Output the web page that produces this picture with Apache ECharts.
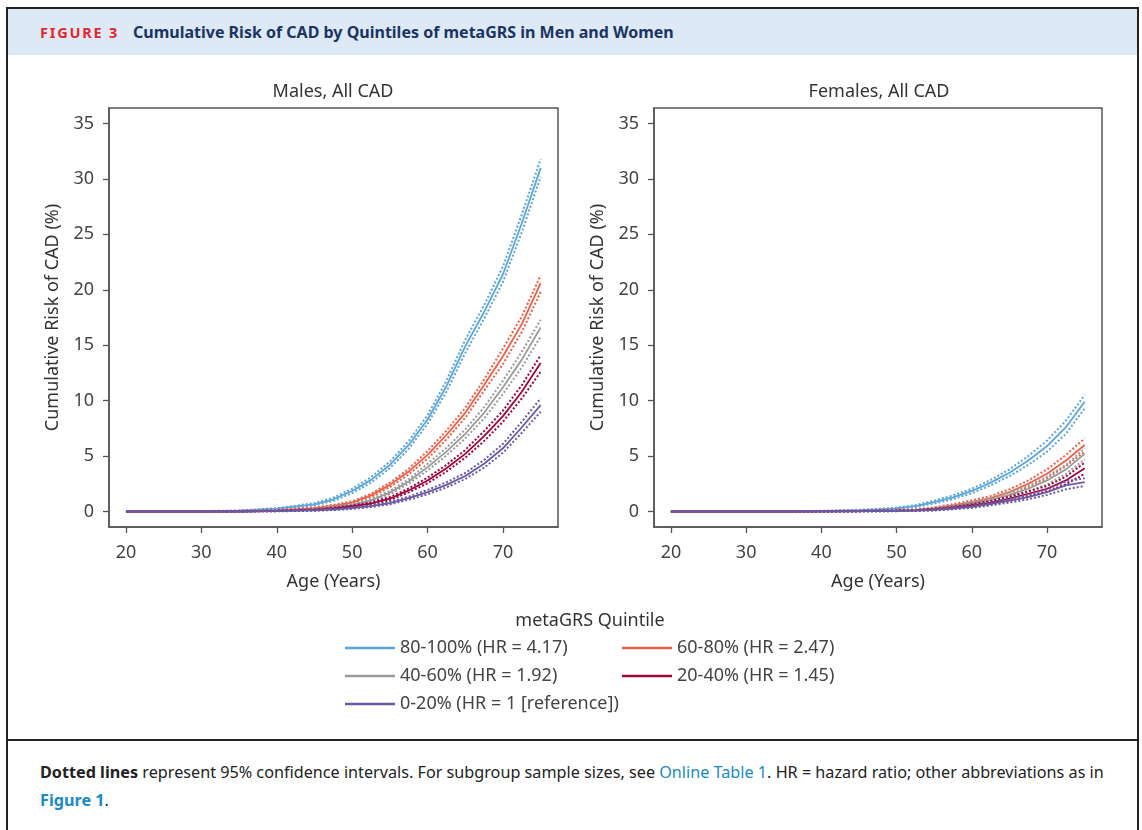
<!DOCTYPE html>
<html>
<head>
<meta charset="utf-8">
<script src="https://cdn.jsdelivr.net/npm/echarts@6/dist/echarts.min.js"></script>
<style>
  body { margin: 0; background: #fff; font-family: "Noto Sans", sans-serif; }
  #page { position: relative; width: 1142px; height: 830px; overflow: hidden; }
  #frame { position: absolute; left: 6px; top: 7px; width: 1133px; height: 840px; border: 2px solid #222; box-sizing: border-box; }
  #head { position: absolute; left: 8px; top: 9px; width: 1129px; height: 46px; background: #dde9f5; }
  #head .fig { position: absolute; left: 32px; top: 13px; color: #e3262f; font-weight: 700; font-size: 14.5px; letter-spacing: 1.8px; }
  #head .ttl { position: absolute; left: 125px; top: 12px; color: #1b3463; font-weight: 700; font-size: 16px; }
  #divider { position: absolute; left: 6px; top: 739px; width: 1133px; height: 2px; background: #222; }
  #foot { position: absolute; left: 40px; top: 758px; width: 1090px; font-size: 16.2px; line-height: 28px; color: #222; white-space: nowrap; }
  #foot b { font-weight: 700; }
  #foot .lnk { color: #1a8bc0; }
  #chart { position: absolute; left: 0; top: 0; width: 1142px; height: 830px; }
</style>
</head>
<body>
<div id="page">
  <div id="frame"></div>
  <div id="head"><span class="fig">FIGURE 3</span><span class="ttl">Cumulative Risk of CAD by Quintiles of metaGRS in Men and Women</span></div>
  <div id="divider"></div>
  <div id="foot"><b>Dotted lines</b> represent 95% confidence intervals. For subgroup sample sizes, see <span class="lnk">Online Table 1</span>. HR = hazard ratio; other abbreviations as in<br><b class="lnk">Figure 1</b>.</div>
  <div id="chart"></div>
</div>
<script>
// ages at which the curves were read
var ages = [20, 30, 35, 40, 45, 47.5, 50, 52.5, 55, 57.5, 60, 62.5, 65, 67.5, 70, 72.5, 75];

var quintiles = ['80-100% (HR = 4.17)', '60-80% (HR = 2.47)', '40-60% (HR = 1.92)', '20-40% (HR = 1.45)', '0-20% (HR = 1 [reference])'];
var colors = ['#5aa5dc', '#f25c45', '#9a9a9a', '#a3043a', '#6a5aa6'];

var xTicks = [20, 30, 40, 50, 60, 70];
var yTicks = [0, 5, 10, 15, 20, 25, 30, 35];

// males
var m80 = [0, 0.02, 0.08, 0.25, 0.65, 1.1, 1.85, 2.85, 4.2, 6.0, 8.3, 11.3, 14.9, 18.0, 21.4, 26.0, 31.0];
var m80lo = [0, 0.01, 0.06, 0.2, 0.55, 0.95, 1.65, 2.6, 3.9, 5.65, 7.9, 10.8, 14.3, 17.4, 20.7, 25.2, 30.2];
var m80hi = [0, 0.03, 0.1, 0.3, 0.75, 1.25, 2.05, 3.1, 4.5, 6.35, 8.7, 11.8, 15.5, 18.6, 22.1, 26.8, 31.8];
var m60 = [0, 0, 0.03, 0.1, 0.3, 0.5, 0.8, 1.45, 2.4, 3.6, 5.1, 6.9, 8.9, 11.4, 14.0, 16.9, 20.6];
var m60lo = [0, 0, 0.02, 0.08, 0.25, 0.42, 0.7, 1.3, 2.2, 3.35, 4.75, 6.5, 8.45, 10.9, 13.3, 16.2, 19.8];
var m60hi = [0, 0.01, 0.05, 0.13, 0.36, 0.6, 0.92, 1.6, 2.6, 3.85, 5.45, 7.3, 9.35, 11.9, 14.7, 17.6, 21.3];
var m40 = [0, 0, 0.02, 0.08, 0.22, 0.38, 0.6, 1.0, 1.7, 2.7, 4.0, 5.4, 7.0, 8.9, 11.2, 13.7, 16.6];
var m40lo = [0, 0, 0.01, 0.06, 0.18, 0.32, 0.52, 0.88, 1.55, 2.5, 3.7, 5.05, 6.6, 8.4, 10.6, 13.0, 15.8];
var m40hi = [0, 0, 0.04, 0.11, 0.27, 0.45, 0.7, 1.12, 1.85, 2.9, 4.3, 5.75, 7.4, 9.4, 11.8, 14.4, 17.3];
var m20 = [0, 0, 0, 0.05, 0.15, 0.28, 0.45, 0.72, 1.15, 1.9, 2.8, 3.9, 5.2, 6.8, 8.6, 10.8, 13.4];
var m20lo = [0, 0, 0, 0.03, 0.11, 0.22, 0.37, 0.62, 1.02, 1.72, 2.55, 3.6, 4.85, 6.35, 8.1, 10.2, 12.6];
var m20hi = [0, 0, 0.01, 0.08, 0.2, 0.34, 0.53, 0.82, 1.3, 2.08, 3.05, 4.2, 5.55, 7.25, 9.1, 11.4, 14.1];
var m0 = [0, 0, 0, 0.04, 0.1, 0.18, 0.3, 0.48, 0.75, 1.2, 1.75, 2.4, 3.2, 4.3, 5.7, 7.6, 9.6];
var m0lo = [0, 0, 0, 0.02, 0.06, 0.13, 0.23, 0.4, 0.64, 1.06, 1.55, 2.17, 2.93, 3.95, 5.3, 7.1, 9.0];
var m0hi = [0, 0, 0.01, 0.07, 0.14, 0.23, 0.37, 0.56, 0.86, 1.34, 1.95, 2.63, 3.47, 4.65, 6.1, 8.1, 10.2];

// females
var f80 = [0, 0, 0.01, 0.04, 0.12, 0.18, 0.28, 0.48, 0.85, 1.28, 1.85, 2.6, 3.5, 4.6, 5.9, 7.6, 9.9];
var f80lo = [0, 0, 0, 0.02, 0.08, 0.13, 0.22, 0.4, 0.72, 1.12, 1.65, 2.35, 3.2, 4.2, 5.4, 7.0, 9.3];
var f80hi = [0, 0, 0.02, 0.06, 0.16, 0.23, 0.35, 0.57, 0.98, 1.45, 2.05, 2.85, 3.8, 5.0, 6.4, 8.2, 10.5];
var f60 = [0, 0, 0, 0.02, 0.05, 0.07, 0.1, 0.13, 0.3, 0.55, 0.85, 1.2, 1.75, 2.5, 3.4, 4.6, 6.0];
var f60lo = [0, 0, 0, 0, 0.03, 0.04, 0.06, 0.08, 0.22, 0.43, 0.7, 1.0, 1.5, 2.2, 3.0, 4.1, 5.4];
var f60hi = [0, 0, 0, 0.04, 0.08, 0.1, 0.14, 0.18, 0.38, 0.67, 1.0, 1.4, 2.0, 2.8, 3.8, 5.1, 6.6];
var f40 = [0, 0, 0, 0.01, 0.04, 0.06, 0.08, 0.11, 0.25, 0.45, 0.72, 1.05, 1.5, 2.05, 2.8, 3.8, 5.2];
var f40lo = [0, 0, 0, 0, 0.02, 0.03, 0.05, 0.07, 0.18, 0.35, 0.58, 0.88, 1.28, 1.8, 2.45, 3.4, 4.7];
var f40hi = [0, 0, 0, 0.03, 0.06, 0.09, 0.11, 0.15, 0.32, 0.55, 0.86, 1.22, 1.72, 2.3, 3.15, 4.2, 5.7];
var f20 = [0, 0, 0, 0.01, 0.03, 0.05, 0.07, 0.1, 0.18, 0.34, 0.55, 0.8, 1.15, 1.6, 2.05, 2.8, 3.9];
var f20lo = [0, 0, 0, 0, 0.01, 0.02, 0.04, 0.06, 0.12, 0.26, 0.44, 0.66, 0.95, 1.38, 1.8, 2.45, 3.4];
var f20hi = [0, 0, 0, 0.02, 0.05, 0.08, 0.1, 0.14, 0.24, 0.42, 0.66, 0.94, 1.35, 1.82, 2.3, 3.15, 4.4];
var f0 = [0, 0, 0, 0.01, 0.02, 0.04, 0.06, 0.08, 0.14, 0.27, 0.42, 0.68, 0.97, 1.3, 1.75, 2.35, 2.65];
var f0lo = [0, 0, 0, 0, 0.01, 0.02, 0.03, 0.05, 0.09, 0.2, 0.33, 0.55, 0.8, 1.1, 1.5, 2.0, 2.3];
var f0hi = [0, 0, 0, 0.02, 0.04, 0.06, 0.09, 0.11, 0.19, 0.34, 0.51, 0.81, 1.14, 1.5, 2.0, 2.7, 3.0];

var maleSets = [[m80, m80lo, m80hi], [m60, m60lo, m60hi], [m40, m40lo, m40hi], [m20, m20lo, m20hi], [m0, m0lo, m0hi]];
var femaleSets = [[f80, f80lo, f80hi], [f60, f60lo, f60hi], [f40, f40lo, f40hi], [f20, f20lo, f20hi], [f0, f0lo, f0hi]];

var chart = echarts.init(document.getElementById('chart'), null, { renderer: 'canvas' });
var font = '"Noto Sans", sans-serif';
var axisGrey = '#555';

function pairs(vals) {
  return ages.map(function (a, i) { return [a, vals[i]]; });
}

function makeX(idx) {
  return {
    type: 'value', gridIndex: idx, min: 17.75, max: 77.3,
    name: 'Age (Years)', nameLocation: 'middle', nameGap: 46,
    nameTextStyle: { color: '#333', fontSize: 18, fontFamily: font },
    axisLine: { show: true, onZero: false, lineStyle: { color: axisGrey, width: 1.5 } },
    axisTick: { show: true, length: 6, customValues: xTicks, lineStyle: { color: axisGrey, width: 1.3 } },
    axisLabel: { customValues: xTicks, color: '#444', fontSize: 18, fontFamily: font, margin: 17 },
    splitLine: { show: false }
  };
}

function makeY(idx) {
  return {
    type: 'value', gridIndex: idx, min: -1.4, max: 36.4,
    name: 'Cumulative Risk of CAD (%)', nameLocation: 'middle', nameGap: 47,
    nameTextStyle: { color: '#333', fontSize: 18, fontFamily: font },
    axisLine: { show: true, onZero: false, lineStyle: { color: axisGrey, width: 1.5 } },
    axisTick: { show: true, length: 6, customValues: yTicks, lineStyle: { color: axisGrey, width: 1.3 } },
    axisLabel: { customValues: yTicks, color: '#444', fontSize: 18, fontFamily: font, margin: 15 },
    splitLine: { show: false }
  };
}

var series = [];
[maleSets, femaleSets].forEach(function (sets, g) {
  sets.forEach(function (s, k) {
    // confidence bounds first, dotted
    [1, 2].forEach(function (j) {
      series.push({
        name: 'ci', type: 'line', xAxisIndex: g, yAxisIndex: g,
        data: pairs(s[j]), symbol: 'none', silent: true,
        lineStyle: { color: colors[k], width: 2, type: [2, 2] }
      });
    });
    series.push({
      name: quintiles[k], type: 'line', xAxisIndex: g, yAxisIndex: g,
      data: pairs(s[0]), symbol: 'none',
      lineStyle: { color: colors[k], width: 1.8 },
      itemStyle: { color: colors[k] }
    });
  });
});

var legendBase = {
  orient: 'vertical', top: 637, padding: 0, itemWidth: 50, itemHeight: 2.5, itemGap: 6, icon: 'rect',
  textStyle: { color: '#444', fontSize: 18, fontFamily: font, lineHeight: 22 }
};

var titleStyle = { color: '#333', fontSize: 18, fontWeight: 'normal', fontFamily: font };

var option = {
  animation: false,
  textStyle: { fontFamily: font },
  title: [
    { text: 'Males, All CAD', left: 333, top: 83, textAlign: 'center', padding: 0, textStyle: titleStyle },
    { text: 'Females, All CAD', left: 879, top: 83, textAlign: 'center', padding: 0, textStyle: titleStyle },
    { text: 'metaGRS Quintile', left: 590, top: 612, textAlign: 'center', padding: 0, textStyle: titleStyle }
  ],
  legend: [
    Object.assign({}, legendBase, { left: 345, data: [quintiles[0], quintiles[2], quintiles[4]] }),
    Object.assign({}, legendBase, { left: 622, data: [quintiles[1], quintiles[3]] })
  ],
  grid: [
    { left: 109, top: 108, width: 449, height: 419, show: true, borderColor: axisGrey, borderWidth: 1.5, backgroundColor: 'transparent' },
    { left: 654, top: 108, width: 448, height: 419, show: true, borderColor: axisGrey, borderWidth: 1.5, backgroundColor: 'transparent' }
  ],
  xAxis: [makeX(0), makeX(1)],
  yAxis: [makeY(0), makeY(1)],
  series: series
};

chart.setOption(option);
</script>
</body>
</html>
